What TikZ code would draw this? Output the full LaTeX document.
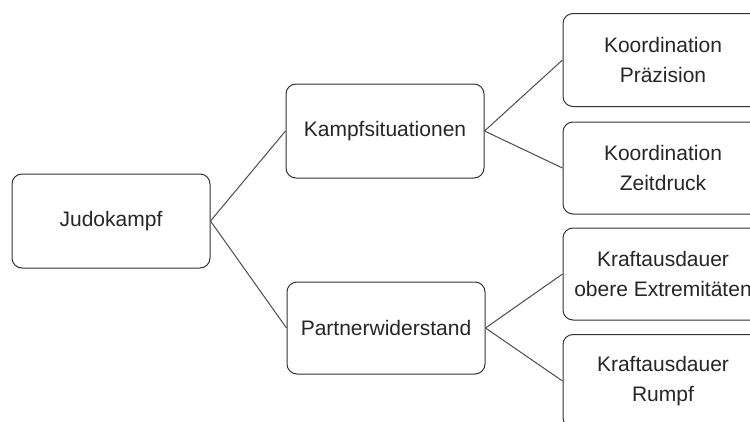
\documentclass[tikz,border=0pt]{standalone}
\usepackage{fontspec}
\setmainfont{Liberation Sans}
\begin{document}
\begin{tikzpicture}[x=1pt,y=-1pt,
  box/.style={draw=black!80, line width=1pt, rounded corners=10pt, fill=white,
    align=center, text=black!85, inner sep=0pt,
    font=\fontsize{21}{30}\selectfont},
  conn/.style={draw=black!70, line width=1pt}]
\useasboundingbox (0,0) rectangle (750,421);
\clip (0,0) rectangle (750,421);
\node[box, minimum width=198pt, minimum height=94pt] (judo) at (111,221) {Judokampf};
\node[box, minimum width=198pt, minimum height=94pt] (kampf) at (385,131) {Kampfsituationen};
\node[box, minimum width=198pt, minimum height=92pt] (partner) at (386,328) {Partnerwiderstand};
\node[box, minimum width=200pt, minimum height=93pt] (praez) at (663,60) {Koordination\\Präzision};
\node[box, minimum width=200pt, minimum height=92pt] (zeit) at (663,168) {Koordination\\Zeitdruck};
\node[box, minimum width=200pt, minimum height=92pt] (extr) at (663,274) {Kraftausdauer\\obere Extremitäten};
\node[box, minimum width=200pt, minimum height=93pt] (rumpf) at (663,381) {Kraftausdauer\\Rumpf};
\draw[conn] (judo.east) -- (kampf.west);
\draw[conn] (judo.east) -- (partner.west);
\draw[conn] (kampf.east) -- (praez.west);
\draw[conn] (kampf.east) -- (zeit.west);
\draw[conn] (partner.east) -- (extr.west);
\draw[conn] (partner.east) -- (rumpf.west);
\end{tikzpicture}
\end{document}
